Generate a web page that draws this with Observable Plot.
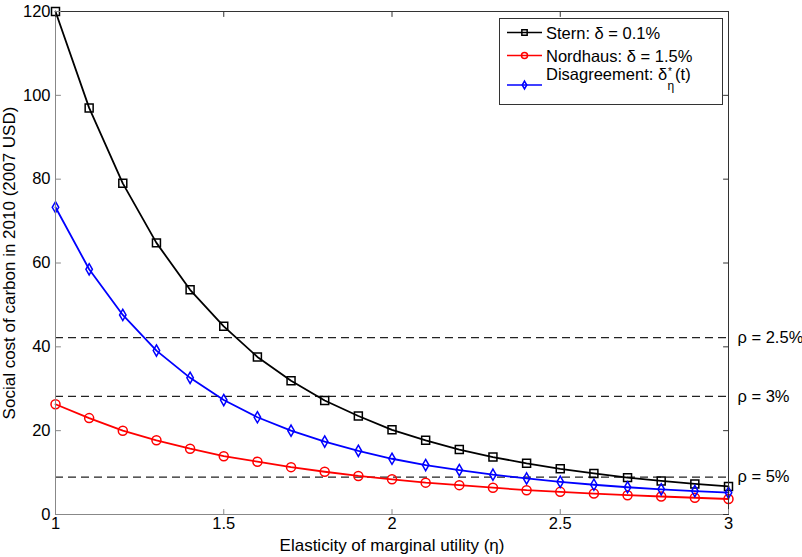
<!DOCTYPE html>
<html><head><meta charset="utf-8">
<script src="https://cdn.jsdelivr.net/npm/d3@7"></script>
<script src="https://cdn.jsdelivr.net/npm/@observablehq/plot@0.6"></script>
<style>body{margin:0;background:#fff;} #chart{position:relative;width:802px;height:557px;}</style>
</head><body><div id="chart"></div>
<script>
const eta = [1.0,1.1,1.2,1.3,1.4,1.5,1.6,1.7,1.8,1.9,2.0,2.1,2.2,2.3,2.4,2.5,2.6,2.7,2.8,2.9,3.0];
const stern = [120.0,97.0,79.0,64.8,53.6,44.9,37.6,31.9,27.2,23.5,20.2,17.7,15.5,13.7,12.2,10.9,9.8,8.8,8.0,7.3,6.7];
const nordhaus = [26.3,23.0,20.0,17.7,15.7,13.9,12.6,11.3,10.2,9.2,8.4,7.6,7.0,6.4,5.8,5.4,5.0,4.6,4.3,4.0,3.7];
const disagreement = [73.3,58.5,47.6,39.1,32.6,27.3,23.2,20.0,17.4,15.2,13.3,11.8,10.6,9.5,8.6,7.8,7.1,6.5,6.0,5.6,5.2];
const seriesNames = ["Stern", "Nordhaus", "Disagreement"];
const rhoLabels = ["ρ = 2.5%", "ρ = 3%", "ρ = 5%"];
const rhoValues = [42.2, 28.2, 8.9];
const xTicks = [1, 1.5, 2, 2.5, 3];
const yTicks = [0, 20, 40, 60, 80, 100, 120];
const xLabel = "Elasticity of marginal utility (η)";
const yLabel = "Social cost of carbon in 2010 (2007 USD)";

// styles
const colors = {Stern: "#000000", Nordhaus: "#ff0000", Disagreement: "#0000ff"};
const symbols = {Stern: "square", Nordhaus: "circle", Disagreement: "diamond"};
const radii = {Stern: 4.5, Nordhaus: 4.5, Disagreement: 3.4};
const font = "'Liberation Sans', Arial, Helvetica, sans-serif";

const values = {Stern: stern, Nordhaus: nordhaus, Disagreement: disagreement};
const rows = seriesNames.flatMap(s => eta.map((e, i) => ({eta: e, value: values[s][i], series: s})));
const rho = rhoValues.map((v, i) => ({v, label: rhoLabels[i]}));

const tickShape = {draw(ctx, l) { ctx.moveTo(0, 0); ctx.lineTo(0, -l); }};
const tickOpts = {length: 5, anchor: "start", shape: tickShape, strokeWidth: 1};

const marks = [
  Plot.ruleY(rho, {y: "v", x1: 1, x2: 3, stroke: "#222", strokeWidth: 1.2, strokeDasharray: "8,5"}),
  Plot.text(rho, {x: 3, y: "v", text: "label", dx: 9, textAnchor: "start", fontSize: 16.5, fill: "#000"}),
];
for (const s of seriesNames) {
  const d = rows.filter(r => r.series === s);
  marks.push(Plot.line(d, {x: "eta", y: "value", stroke: colors[s], strokeWidth: 1.8}));
  marks.push(Plot.dot(d, {x: "eta", y: "value", symbol: () => symbols[s], r: radii[s], stroke: colors[s], strokeWidth: 1.5, fill: "none"}));
}
marks.push(
  Plot.ruleX([1], {stroke: "#888", strokeWidth: 1}),
  Plot.ruleY([0], {stroke: "#888", strokeWidth: 1}),
  Plot.ruleX([3], {stroke: "#333", strokeWidth: 1}),
  Plot.ruleY([120], {stroke: "#333", strokeWidth: 1}),
  Plot.vector(xTicks, {x: d => d, y: 0, rotate: 0, stroke: "#888", ...tickOpts}),
  Plot.vector(xTicks, {x: d => d, y: 120, rotate: 180, stroke: "#333", ...tickOpts}),
  Plot.vector(yTicks, {x: 1, y: d => d, rotate: 90, stroke: "#888", ...tickOpts}),
  Plot.vector(yTicks, {x: 3, y: d => d, rotate: -90, stroke: "#333", ...tickOpts}),
  Plot.axisX({ticks: xTicks, tickSize: 0, tickPadding: 3, fontSize: 16.5, label: null, tickFormat: d => String(d)}),
  Plot.axisY({ticks: yTicks, tickSize: 0, tickPadding: 5, fontSize: 16.5, label: null, tickFormat: d => String(d)}),
  Plot.text([yLabel], {frameAnchor: "left", rotate: -90, dx: -46, textAnchor: "middle", lineAnchor: "middle", fontSize: 17}),
  Plot.text([xLabel], {frameAnchor: "bottom", dy: 31, textAnchor: "middle", lineAnchor: "middle", fontSize: 17})
);

const plot = Plot.plot({
  width: 802, height: 557,
  marginLeft: 55, marginRight: 74, marginTop: 11, marginBottom: 43,
  style: {fontFamily: font, fontSize: "16px", color: "#000", background: "#fff", overflow: "visible"},
  x: {domain: [1, 3]},
  y: {domain: [0, 120]},
  marks
});
document.getElementById("chart").appendChild(plot);

// Legend
const svg = d3.select(plot);
const lg = svg.append("g").attr("font-family", font).attr("font-size", 16.5).attr("text-anchor", "start").attr("fill", "#000");
lg.append("rect").attr("x", 499.5).attr("y", 18.5).attr("width", 223).attr("height", 86)
  .attr("fill", "#fff").attr("stroke", "#333").attr("stroke-width", 1);
const legendRows = [
  {s: "Stern", lineY: 32.5, base: 38.5},
  {s: "Nordhaus", lineY: 55.5, base: 62},
  {s: "Disagreement", lineY: 85, base: 80}
];
const symGen = {square: d3.symbolSquare, circle: d3.symbolCircle, diamond: d3.symbolDiamond};
for (const r of legendRows) {
  lg.append("line").attr("x1", 507).attr("x2", 542).attr("y1", r.lineY).attr("y2", r.lineY)
    .attr("stroke", colors[r.s]).attr("stroke-width", 1.7);
  const rr = r.s === "Disagreement" ? 2.4 : 3;
  lg.append("path").attr("transform", `translate(524.5,${r.lineY})`)
    .attr("d", d3.symbol(symGen[symbols[r.s]], Math.PI * rr * rr)())
    .attr("fill", "none").attr("stroke", colors[r.s]).attr("stroke-width", 1.5);
}
lg.append("text").attr("x", 546).attr("y", legendRows[0].base).text("Stern: δ = 0.1%");
lg.append("text").attr("x", 546).attr("y", legendRows[1].base).text("Nordhaus: δ = 1.5%");
const t3 = lg.append("text").attr("x", 546).attr("y", legendRows[2].base).text("Disagreement: δ");
const w3 = t3.node().getComputedTextLength();
const sx = 546 + w3 + 0.5;
lg.append("text").attr("x", sx + 0.5).attr("y", legendRows[2].base - 5).attr("font-size", 10).text("*");
lg.append("text").attr("x", sx).attr("y", legendRows[2].base + 10).attr("font-size", 12).text("η");
lg.append("text").attr("x", sx + 7.5).attr("y", legendRows[2].base).text("(t)");
</script></body></html>
